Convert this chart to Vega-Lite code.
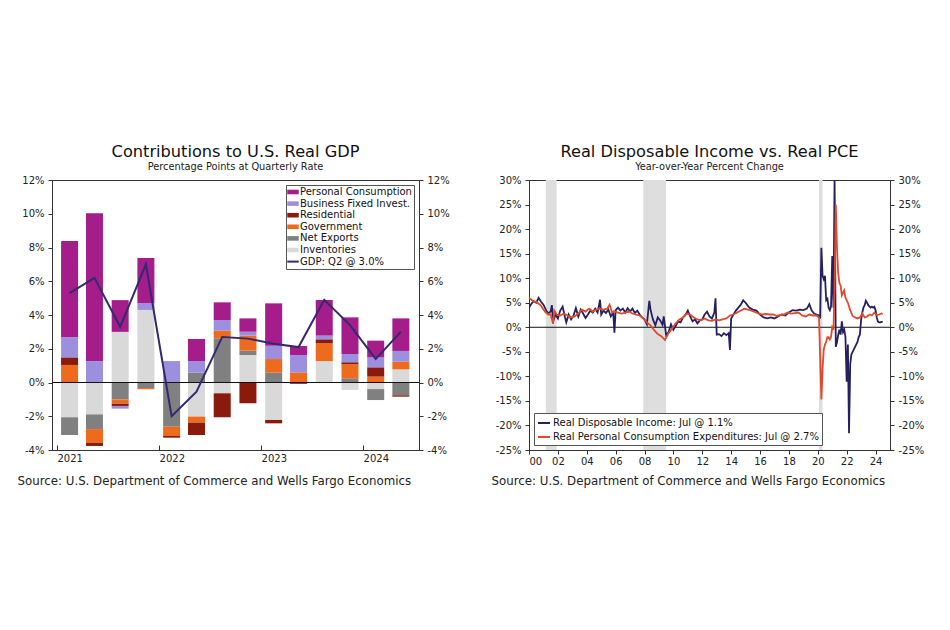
{
 "$schema": "https://vega.github.io/schema/vega-lite/v6.json",
 "background": "white",
 "padding": {"left": 16, "top": 143, "right": 0, "bottom": 0},
 "config": {
  "font": "DejaVu Sans",
  "view": {"stroke": "#333", "strokeWidth": 1},
  "axis": {"grid": false, "labelFontSize": 10, "labelColor": "#222", "domainColor": "#333", "tickColor": "#333", "tickSize": 4, "labelPadding": 4, "titleFontWeight": "normal"},
  "title": {"fontWeight": "normal", "fontSize": 16.2, "color": "#111", "subtitleFontSize": 9.8, "subtitleColor": "#222", "anchor": "middle", "offset": 3, "subtitlePadding": 2}
 },
 "datasets": {
  "compOrder": [
   {"comp": "Inventories", "ord": 1}, {"comp": "Net Exports", "ord": 2}, {"comp": "Government", "ord": 3},
   {"comp": "Residential", "ord": 4}, {"comp": "Business Fixed Invest.", "ord": 5}, {"comp": "Personal Consumption", "ord": 6}
  ],
  "gdpParts": [
   {"q": "2021-02-15", "comp": "Inventories", "v": -2.06}, {"q": "2021-02-15", "comp": "Net Exports", "v": -1.05}, {"q": "2021-02-15", "comp": "Government", "v": 1.04}, {"q": "2021-02-15", "comp": "Residential", "v": 0.45}, {"q": "2021-02-15", "comp": "Business Fixed Invest.", "v": 1.19}, {"q": "2021-02-15", "comp": "Personal Consumption", "v": 5.71},
   {"q": "2021-05-15", "comp": "Inventories", "v": -1.89}, {"q": "2021-05-15", "comp": "Net Exports", "v": -0.87}, {"q": "2021-05-15", "comp": "Government", "v": -0.81}, {"q": "2021-05-15", "comp": "Residential", "v": -0.19}, {"q": "2021-05-15", "comp": "Business Fixed Invest.", "v": 1.27}, {"q": "2021-05-15", "comp": "Personal Consumption", "v": 8.76},
   {"q": "2021-08-15", "comp": "Inventories", "v": 3.0}, {"q": "2021-08-15", "comp": "Net Exports", "v": -1.0}, {"q": "2021-08-15", "comp": "Government", "v": -0.26}, {"q": "2021-08-15", "comp": "Residential", "v": -0.13}, {"q": "2021-08-15", "comp": "Business Fixed Invest.", "v": -0.16}, {"q": "2021-08-15", "comp": "Personal Consumption", "v": 1.88},
   {"q": "2021-11-15", "comp": "Inventories", "v": 4.3}, {"q": "2021-11-15", "comp": "Net Exports", "v": -0.33}, {"q": "2021-11-15", "comp": "Government", "v": -0.07}, {"q": "2021-11-15", "comp": "Business Fixed Invest.", "v": 0.4}, {"q": "2021-11-15", "comp": "Personal Consumption", "v": 2.68},
   {"q": "2022-02-15", "comp": "Net Exports", "v": -2.62}, {"q": "2022-02-15", "comp": "Government", "v": -0.55}, {"q": "2022-02-15", "comp": "Residential", "v": -0.1}, {"q": "2022-02-15", "comp": "Business Fixed Invest.", "v": 1.27},
   {"q": "2022-05-15", "comp": "Inventories", "v": -2.02}, {"q": "2022-05-15", "comp": "Net Exports", "v": 0.58}, {"q": "2022-05-15", "comp": "Government", "v": -0.36}, {"q": "2022-05-15", "comp": "Residential", "v": -0.73}, {"q": "2022-05-15", "comp": "Business Fixed Invest.", "v": 0.69}, {"q": "2022-05-15", "comp": "Personal Consumption", "v": 1.31},
   {"q": "2022-08-15", "comp": "Inventories", "v": -0.64}, {"q": "2022-08-15", "comp": "Net Exports", "v": 2.62}, {"q": "2022-08-15", "comp": "Government", "v": 0.45}, {"q": "2022-08-15", "comp": "Residential", "v": -1.42}, {"q": "2022-08-15", "comp": "Business Fixed Invest.", "v": 0.63}, {"q": "2022-08-15", "comp": "Personal Consumption", "v": 1.05},
   {"q": "2022-11-15", "comp": "Inventories", "v": 1.63}, {"q": "2022-11-15", "comp": "Net Exports", "v": 0.26}, {"q": "2022-11-15", "comp": "Government", "v": 0.89}, {"q": "2022-11-15", "comp": "Residential", "v": -1.23}, {"q": "2022-11-15", "comp": "Business Fixed Invest.", "v": 0.23}, {"q": "2022-11-15", "comp": "Personal Consumption", "v": 0.79},
   {"q": "2023-02-15", "comp": "Inventories", "v": -2.22}, {"q": "2023-02-15", "comp": "Net Exports", "v": 0.58}, {"q": "2023-02-15", "comp": "Government", "v": 0.81}, {"q": "2023-02-15", "comp": "Residential", "v": -0.2}, {"q": "2023-02-15", "comp": "Business Fixed Invest.", "v": 0.79}, {"q": "2023-02-15", "comp": "Personal Consumption", "v": 2.51},
   {"q": "2023-05-15", "comp": "Government", "v": 0.6}, {"q": "2023-05-15", "comp": "Residential", "v": -0.08}, {"q": "2023-05-15", "comp": "Business Fixed Invest.", "v": 1.03}, {"q": "2023-05-15", "comp": "Personal Consumption", "v": 0.53},
   {"q": "2023-08-15", "comp": "Inventories", "v": 1.27}, {"q": "2023-08-15", "comp": "Government", "v": 1.05}, {"q": "2023-08-15", "comp": "Residential", "v": 0.24}, {"q": "2023-08-15", "comp": "Business Fixed Invest.", "v": 0.22}, {"q": "2023-08-15", "comp": "Personal Consumption", "v": 2.11},
   {"q": "2023-11-15", "comp": "Inventories", "v": -0.44}, {"q": "2023-11-15", "comp": "Net Exports", "v": 0.25}, {"q": "2023-11-15", "comp": "Government", "v": 0.83}, {"q": "2023-11-15", "comp": "Residential", "v": 0.12}, {"q": "2023-11-15", "comp": "Business Fixed Invest.", "v": 0.49}, {"q": "2023-11-15", "comp": "Personal Consumption", "v": 2.17},
   {"q": "2024-02-15", "comp": "Inventories", "v": -0.39}, {"q": "2024-02-15", "comp": "Net Exports", "v": -0.65}, {"q": "2024-02-15", "comp": "Government", "v": 0.35}, {"q": "2024-02-15", "comp": "Residential", "v": 0.55}, {"q": "2024-02-15", "comp": "Business Fixed Invest.", "v": 0.59}, {"q": "2024-02-15", "comp": "Personal Consumption", "v": 0.99},
   {"q": "2024-05-15", "comp": "Inventories", "v": 0.78}, {"q": "2024-05-15", "comp": "Net Exports", "v": -0.76}, {"q": "2024-05-15", "comp": "Government", "v": 0.45}, {"q": "2024-05-15", "comp": "Residential", "v": -0.08}, {"q": "2024-05-15", "comp": "Business Fixed Invest.", "v": 0.64}, {"q": "2024-05-15", "comp": "Personal Consumption", "v": 1.93}
  ],
  "gdp": [
   {"q": "2021-02-15", "v": 5.3}, {"q": "2021-05-15", "v": 6.2}, {"q": "2021-08-15", "v": 3.3}, {"q": "2021-11-15", "v": 7.0},
   {"q": "2022-02-15", "v": -2.0}, {"q": "2022-05-15", "v": -0.55}, {"q": "2022-08-15", "v": 2.7}, {"q": "2022-11-15", "v": 2.6},
   {"q": "2023-02-15", "v": 2.3}, {"q": "2023-05-15", "v": 2.1}, {"q": "2023-08-15", "v": 4.9}, {"q": "2023-11-15", "v": 3.4},
   {"q": "2024-02-15", "v": 1.4}, {"q": "2024-05-15", "v": 3.0}
  ],
  "recessions": [
   {"start": "2001-03-01", "end": "2001-11-30"},
   {"start": "2007-12-01", "end": "2009-06-30"},
   {"start": "2020-02-01", "end": "2020-04-30"}
  ],
  "rdi": [
   {"d": "2000-01", "v": 4.0}, {"d": "2000-03", "v": 4.8}, {"d": "2000-05", "v": 5.3}, {"d": "2000-07", "v": 5.0}, {"d": "2000-09", "v": 6.0}, {"d": "2000-11", "v": 5.2},
   {"d": "2001-01", "v": 4.6}, {"d": "2001-03", "v": 3.6}, {"d": "2001-05", "v": 2.8}, {"d": "2001-07", "v": 3.2}, {"d": "2001-08", "v": 4.5}, {"d": "2001-09", "v": 1.2}, {"d": "2001-11", "v": 2.6},
   {"d": "2002-01", "v": 1.8}, {"d": "2002-03", "v": 3.4}, {"d": "2002-05", "v": 4.2}, {"d": "2002-07", "v": 2.0}, {"d": "2002-08", "v": 1.0}, {"d": "2002-10", "v": 2.6}, {"d": "2002-12", "v": 1.6},
   {"d": "2003-02", "v": 2.4}, {"d": "2003-04", "v": 3.9}, {"d": "2003-06", "v": 2.2}, {"d": "2003-08", "v": 3.6}, {"d": "2003-10", "v": 2.8}, {"d": "2003-12", "v": 1.9},
   {"d": "2004-02", "v": 2.6}, {"d": "2004-04", "v": 3.4}, {"d": "2004-06", "v": 3.0}, {"d": "2004-08", "v": 3.8}, {"d": "2004-10", "v": 3.0}, {"d": "2004-12", "v": 5.6},
   {"d": "2005-01", "v": 2.6}, {"d": "2005-03", "v": 3.4}, {"d": "2005-05", "v": 2.9}, {"d": "2005-07", "v": 3.6}, {"d": "2005-09", "v": 2.2}, {"d": "2005-11", "v": 3.0}, {"d": "2005-12", "v": -1.1},
   {"d": "2006-01", "v": 3.5}, {"d": "2006-03", "v": 4.0}, {"d": "2006-05", "v": 3.4}, {"d": "2006-07", "v": 3.8}, {"d": "2006-09", "v": 3.0}, {"d": "2006-11", "v": 3.9},
   {"d": "2007-01", "v": 3.2}, {"d": "2007-03", "v": 3.8}, {"d": "2007-05", "v": 2.9}, {"d": "2007-07", "v": 3.4}, {"d": "2007-09", "v": 2.6}, {"d": "2007-11", "v": 2.0},
   {"d": "2008-01", "v": 1.6}, {"d": "2008-03", "v": 0.6}, {"d": "2008-05", "v": 5.4}, {"d": "2008-06", "v": 3.6}, {"d": "2008-08", "v": 1.6}, {"d": "2008-10", "v": 0.4}, {"d": "2008-12", "v": 2.0},
   {"d": "2009-02", "v": 1.4}, {"d": "2009-04", "v": 0.5}, {"d": "2009-05", "v": 2.2}, {"d": "2009-07", "v": -1.6}, {"d": "2009-09", "v": -1.0}, {"d": "2009-11", "v": 0.6},
   {"d": "2010-01", "v": -0.5}, {"d": "2010-03", "v": 0.3}, {"d": "2010-05", "v": 1.2}, {"d": "2010-07", "v": 1.0}, {"d": "2010-09", "v": 2.0}, {"d": "2010-11", "v": 2.5},
   {"d": "2011-01", "v": 3.4}, {"d": "2011-03", "v": 2.2}, {"d": "2011-05", "v": 1.2}, {"d": "2011-07", "v": 1.6}, {"d": "2011-09", "v": 0.8}, {"d": "2011-11", "v": 1.4},
   {"d": "2012-01", "v": 1.6}, {"d": "2012-03", "v": 2.6}, {"d": "2012-05", "v": 3.2}, {"d": "2012-07", "v": 2.2}, {"d": "2012-09", "v": 1.8}, {"d": "2012-11", "v": 3.0}, {"d": "2012-12", "v": 5.9},
   {"d": "2013-01", "v": -1.5}, {"d": "2013-03", "v": -1.4}, {"d": "2013-05", "v": -1.8}, {"d": "2013-07", "v": -1.2}, {"d": "2013-09", "v": -1.6}, {"d": "2013-11", "v": -1.2}, {"d": "2013-12", "v": -4.6},
   {"d": "2014-01", "v": 1.8}, {"d": "2014-03", "v": 2.6}, {"d": "2014-05", "v": 3.4}, {"d": "2014-07", "v": 4.0}, {"d": "2014-09", "v": 4.6}, {"d": "2014-11", "v": 5.5},
   {"d": "2015-01", "v": 5.0}, {"d": "2015-04", "v": 4.0}, {"d": "2015-07", "v": 3.6}, {"d": "2015-10", "v": 3.4},
   {"d": "2016-01", "v": 2.6}, {"d": "2016-04", "v": 2.0}, {"d": "2016-07", "v": 1.8}, {"d": "2016-10", "v": 2.0},
   {"d": "2017-01", "v": 1.8}, {"d": "2017-04", "v": 2.2}, {"d": "2017-07", "v": 2.6}, {"d": "2017-10", "v": 2.4},
   {"d": "2018-01", "v": 3.0}, {"d": "2018-04", "v": 3.5}, {"d": "2018-07", "v": 3.4}, {"d": "2018-10", "v": 3.6},
   {"d": "2019-01", "v": 3.5}, {"d": "2019-04", "v": 3.8}, {"d": "2019-06", "v": 4.7}, {"d": "2019-08", "v": 3.4}, {"d": "2019-10", "v": 2.8}, {"d": "2019-12", "v": 2.6},
   {"d": "2020-02", "v": 2.4}, {"d": "2020-03", "v": 1.8}, {"d": "2020-04", "v": 16.2}, {"d": "2020-05", "v": 10.5}, {"d": "2020-06", "v": 9.8}, {"d": "2020-07", "v": 10.5}, {"d": "2020-08", "v": 5.5}, {"d": "2020-09", "v": 5.8}, {"d": "2020-10", "v": 4.0}, {"d": "2020-11", "v": 3.5}, {"d": "2020-12", "v": 4.2},
   {"d": "2021-01", "v": 14.5}, {"d": "2021-02", "v": 4.0}, {"d": "2021-03", "v": 30.5}, {"d": "2021-04", "v": -4.0}, {"d": "2021-05", "v": -3.0}, {"d": "2021-06", "v": -1.5}, {"d": "2021-07", "v": -0.5}, {"d": "2021-08", "v": -1.5}, {"d": "2021-09", "v": 1.2}, {"d": "2021-10", "v": -1.0}, {"d": "2021-11", "v": -0.5}, {"d": "2021-12", "v": -2.0},
   {"d": "2022-01", "v": -11.1}, {"d": "2022-02", "v": -3.5}, {"d": "2022-03", "v": -21.6}, {"d": "2022-04", "v": -7.5}, {"d": "2022-05", "v": -5.5}, {"d": "2022-06", "v": -5.0}, {"d": "2022-07", "v": -4.5}, {"d": "2022-08", "v": -4.0}, {"d": "2022-09", "v": -3.5}, {"d": "2022-10", "v": -3.0}, {"d": "2022-11", "v": -2.0}, {"d": "2022-12", "v": -1.5},
   {"d": "2023-01", "v": 1.5}, {"d": "2023-02", "v": 3.0}, {"d": "2023-03", "v": 4.0}, {"d": "2023-04", "v": 4.5}, {"d": "2023-05", "v": 5.4}, {"d": "2023-06", "v": 5.0}, {"d": "2023-07", "v": 4.5}, {"d": "2023-08", "v": 4.2}, {"d": "2023-09", "v": 4.0}, {"d": "2023-10", "v": 4.2}, {"d": "2023-11", "v": 4.0}, {"d": "2023-12", "v": 4.2},
   {"d": "2024-01", "v": 3.5}, {"d": "2024-02", "v": 2.0}, {"d": "2024-03", "v": 1.2}, {"d": "2024-04", "v": 1.0}, {"d": "2024-05", "v": 1.0}, {"d": "2024-06", "v": 1.1}, {"d": "2024-07", "v": 1.1}
  ],
  "pce": [
   {"d": "2000-01", "v": 6.0}, {"d": "2000-03", "v": 5.6}, {"d": "2000-05", "v": 5.2}, {"d": "2000-07", "v": 5.2}, {"d": "2000-09", "v": 4.8}, {"d": "2000-11", "v": 4.4},
   {"d": "2001-01", "v": 3.6}, {"d": "2001-03", "v": 3.0}, {"d": "2001-05", "v": 2.6}, {"d": "2001-07", "v": 2.6}, {"d": "2001-09", "v": 0.7}, {"d": "2001-10", "v": 3.4}, {"d": "2001-12", "v": 2.6},
   {"d": "2002-03", "v": 2.4}, {"d": "2002-06", "v": 2.8}, {"d": "2002-09", "v": 2.4}, {"d": "2002-12", "v": 2.0},
   {"d": "2003-03", "v": 2.2}, {"d": "2003-06", "v": 2.8}, {"d": "2003-09", "v": 3.6}, {"d": "2003-12", "v": 3.2},
   {"d": "2004-03", "v": 3.8}, {"d": "2004-06", "v": 3.2}, {"d": "2004-09", "v": 3.6}, {"d": "2004-12", "v": 3.8},
   {"d": "2005-03", "v": 3.6}, {"d": "2005-06", "v": 3.8}, {"d": "2005-08", "v": 4.6}, {"d": "2005-10", "v": 3.0}, {"d": "2005-12", "v": 3.2},
   {"d": "2006-03", "v": 3.0}, {"d": "2006-06", "v": 2.8}, {"d": "2006-09", "v": 3.0}, {"d": "2006-12", "v": 3.2},
   {"d": "2007-03", "v": 2.8}, {"d": "2007-06", "v": 2.6}, {"d": "2007-09", "v": 2.4}, {"d": "2007-12", "v": 1.8},
   {"d": "2008-03", "v": 1.0}, {"d": "2008-06", "v": 0.4}, {"d": "2008-09", "v": -0.6}, {"d": "2008-12", "v": -1.4},
   {"d": "2009-03", "v": -1.8}, {"d": "2009-06", "v": -2.6}, {"d": "2009-09", "v": -1.2}, {"d": "2009-12", "v": -0.2},
   {"d": "2010-03", "v": 0.8}, {"d": "2010-06", "v": 1.6}, {"d": "2010-09", "v": 2.0}, {"d": "2010-12", "v": 2.8},
   {"d": "2011-03", "v": 2.6}, {"d": "2011-06", "v": 2.0}, {"d": "2011-09", "v": 1.6}, {"d": "2011-12", "v": 1.4},
   {"d": "2012-03", "v": 1.8}, {"d": "2012-06", "v": 1.4}, {"d": "2012-09", "v": 1.3}, {"d": "2012-12", "v": 1.6},
   {"d": "2013-03", "v": 1.4}, {"d": "2013-06", "v": 1.6}, {"d": "2013-09", "v": 1.8}, {"d": "2013-12", "v": 2.4},
   {"d": "2014-03", "v": 2.6}, {"d": "2014-06", "v": 3.0}, {"d": "2014-09", "v": 3.4}, {"d": "2014-12", "v": 3.8},
   {"d": "2015-03", "v": 3.6}, {"d": "2015-06", "v": 3.4}, {"d": "2015-09", "v": 3.1}, {"d": "2015-12", "v": 2.8},
   {"d": "2016-03", "v": 2.6}, {"d": "2016-06", "v": 2.7}, {"d": "2016-09", "v": 2.6}, {"d": "2016-12", "v": 2.6},
   {"d": "2017-03", "v": 2.3}, {"d": "2017-06", "v": 2.5}, {"d": "2017-09", "v": 2.6}, {"d": "2017-12", "v": 3.0},
   {"d": "2018-03", "v": 2.8}, {"d": "2018-06", "v": 2.9}, {"d": "2018-09", "v": 3.0}, {"d": "2018-12", "v": 2.4},
   {"d": "2019-03", "v": 2.2}, {"d": "2019-06", "v": 2.6}, {"d": "2019-09", "v": 2.4}, {"d": "2019-12", "v": 2.4},
   {"d": "2020-02", "v": 2.0}, {"d": "2020-03", "v": -6.0}, {"d": "2020-04", "v": -14.7}, {"d": "2020-05", "v": -8.5}, {"d": "2020-06", "v": -4.5}, {"d": "2020-07", "v": -3.5}, {"d": "2020-08", "v": -3.0}, {"d": "2020-09", "v": -2.0}, {"d": "2020-10", "v": -2.0}, {"d": "2020-11", "v": -2.5}, {"d": "2020-12", "v": -2.0},
   {"d": "2021-01", "v": 0.0}, {"d": "2021-02", "v": -0.5}, {"d": "2021-03", "v": 8.0}, {"d": "2021-04", "v": 25.0}, {"d": "2021-05", "v": 16.0}, {"d": "2021-06", "v": 11.0}, {"d": "2021-07", "v": 9.0}, {"d": "2021-08", "v": 8.5}, {"d": "2021-09", "v": 6.5}, {"d": "2021-10", "v": 7.0}, {"d": "2021-11", "v": 7.5}, {"d": "2021-12", "v": 6.0},
   {"d": "2022-02", "v": 5.0}, {"d": "2022-04", "v": 3.5}, {"d": "2022-06", "v": 2.3}, {"d": "2022-08", "v": 2.0}, {"d": "2022-10", "v": 1.8}, {"d": "2022-12", "v": 2.0},
   {"d": "2023-02", "v": 2.8}, {"d": "2023-04", "v": 2.0}, {"d": "2023-06", "v": 2.2}, {"d": "2023-08", "v": 2.6}, {"d": "2023-10", "v": 2.4}, {"d": "2023-12", "v": 3.0},
   {"d": "2024-02", "v": 2.5}, {"d": "2024-04", "v": 2.6}, {"d": "2024-06", "v": 2.8}, {"d": "2024-07", "v": 2.7}
  ]
 },
 "spacing": 40,
 "resolve": {"scale": {"color": "independent", "stroke": "independent"}, "legend": {"color": "independent", "stroke": "independent"}},
 "hconcat": [
  {
   "width": 367, "height": 270,
   "title": {"text": "Contributions to U.S. Real GDP", "subtitle": "Percentage Points at Quarterly Rate"},
   "resolve": {"axis": {"y": "independent"}},
   "layer": [
    {
     "data": {"name": "gdpParts"},
     "transform": [{"lookup": "comp", "from": {"data": {"name": "compOrder"}, "key": "comp", "fields": ["ord"]}}],
     "mark": {"type": "bar", "size": 17},
     "encoding": {
      "x": {"field": "q", "type": "temporal", "scale": {"type": "utc", "domain": [{"year": 2021, "month": 1, "date": 1, "utc": true}, {"year": 2024, "month": 7, "date": 1, "utc": true}]},
            "axis": {"values": [{"year": 2021, "utc": true}, {"year": 2022, "utc": true}, {"year": 2023, "utc": true}, {"year": 2024, "utc": true}], "format": "%Y", "labelAlign": "left", "tickSize": -5, "labelPadding": 8,
                     "title": "Source: U.S. Department of Commerce and Wells Fargo Economics", "titleAnchor": "start", "titleAlign": "left", "titleX": -35, "titleY": 34, "titleBaseline": "alphabetic", "titleFontSize": 11.8, "titleColor": "#222"}},
      "y": {"field": "v", "type": "quantitative", "stack": "zero", "scale": {"domain": [-4, 12]}, "axis": {"orient": "left", "title": null, "values": [-4, -2, 0, 2, 4, 6, 8, 10, 12], "labelExpr": "datum.value + '%'"}},
      "color": {"field": "comp", "type": "nominal",
                "scale": {"domain": ["Personal Consumption", "Business Fixed Invest.", "Residential", "Government", "Net Exports", "Inventories", "GDP: Q2 @ 3.0%"],
                          "range": ["#a51c8b", "#9c8fdd", "#8a1a0b", "#ee6b1e", "#808080", "#d9d9d9", "#33296e"]},
                "legend": {"title": null, "orient": "top-right", "offset": 5, "strokeColor": "#555", "fillColor": "white", "padding": 2, "labelFontSize": 10, "labelColor": "#111", "symbolSize": 132, "rowPadding": 1.6, "labelOffset": 2,
                           "encode": {"symbols": {"update": {
                             "shape": {"signal": "datum.value === 'GDP: Q2 @ 3.0%' ? 'stroke' : 'M-1,-0.4H1V0.4H-1Z'"},
                             "strokeWidth": {"signal": "datum.value === 'GDP: Q2 @ 3.0%' ? 2 : 0"},
                             "stroke": {"signal": "datum.value === 'GDP: Q2 @ 3.0%' ? '#33296e' : 'transparent'"},
                             "fill": {"signal": "datum.value === 'Personal Consumption' ? '#a51c8b' : datum.value === 'Business Fixed Invest.' ? '#9c8fdd' : datum.value === 'Residential' ? '#8a1a0b' : datum.value === 'Government' ? '#ee6b1e' : datum.value === 'Net Exports' ? '#808080' : datum.value === 'Inventories' ? '#d9d9d9' : 'transparent'"},
                             "opacity": {"value": 1}
                           }}}}},
      "order": {"field": "ord", "type": "quantitative"}
     }
    },
    {
     "data": {"values": [{}]},
     "mark": {"type": "rule", "color": "#111", "strokeWidth": 1},
     "encoding": {"y": {"datum": 0, "type": "quantitative", "scale": {"domain": [-4, 12]}, "axis": {"orient": "right", "title": null, "values": [-4, -2, 0, 2, 4, 6, 8, 10, 12], "labelExpr": "datum.value + '%'"}}}
    },
    {
     "data": {"name": "gdp"},
     "mark": {"type": "line", "strokeWidth": 2},
     "encoding": {
      "x": {"field": "q", "type": "temporal", "scale": {"type": "utc", "domain": [{"year": 2021, "month": 1, "date": 1, "utc": true}, {"year": 2024, "month": 7, "date": 1, "utc": true}]},
            "axis": {"values": [{"year": 2021, "utc": true}, {"year": 2022, "utc": true}, {"year": 2023, "utc": true}, {"year": 2024, "utc": true}], "format": "%Y", "labelAlign": "left", "tickSize": -5, "labelPadding": 8,
                     "title": "Source: U.S. Department of Commerce and Wells Fargo Economics", "titleAnchor": "start", "titleAlign": "left", "titleX": -35, "titleY": 34, "titleBaseline": "alphabetic", "titleFontSize": 11.8, "titleColor": "#222"}},
      "y": {"field": "v", "type": "quantitative", "scale": {"domain": [-4, 12]}, "axis": null},
      "color": {"datum": "GDP: Q2 @ 3.0%"}
     }
    }
   ]
  },
  {
   "width": 361, "height": 270,
   "title": {"text": "Real Disposable Income vs. Real PCE", "subtitle": "Year-over-Year Percent Change"},
   "resolve": {"axis": {"y": "independent"}},
   "layer": [
    {
     "data": {"name": "recessions"},
     "mark": {"type": "rect", "color": "#dedede"},
     "encoding": {
      "x": {"field": "start", "type": "temporal", "scale": {"type": "utc", "domain": [{"year": 2000, "utc": true}, {"year": 2025, "utc": true}]},
            "axis": {"values": [{"year": 2000, "utc": true}, {"year": 2002, "utc": true}, {"year": 2004, "utc": true}, {"year": 2006, "utc": true}, {"year": 2008, "utc": true}, {"year": 2010, "utc": true}, {"year": 2012, "utc": true}, {"year": 2014, "utc": true}, {"year": 2016, "utc": true}, {"year": 2018, "utc": true}, {"year": 2020, "utc": true}, {"year": 2022, "utc": true}, {"year": 2024, "utc": true}], "format": "%y", "labelPadding": 2,
                     "title": "Source: U.S. Department of Commerce and Wells Fargo Economics", "titleAnchor": "start", "titleAlign": "left", "titleX": -38, "titleY": 34, "titleBaseline": "alphabetic", "titleFontSize": 11.8, "titleColor": "#222"}},
      "x2": {"field": "end"}
     }
    },
    {
     "data": {"values": [{}]},
     "mark": {"type": "rule", "color": "#111", "strokeWidth": 1},
     "encoding": {"y": {"datum": 0, "type": "quantitative", "scale": {"domain": [-25, 30]}, "axis": {"orient": "right", "title": null, "values": [-25, -20, -15, -10, -5, 0, 5, 10, 15, 20, 25, 30], "labelExpr": "datum.value + '%'"}}}
    },
    {
     "data": {"name": "rdi"},
     "mark": {"type": "line", "strokeWidth": 1.8, "clip": true},
     "encoding": {
      "x": {"field": "d", "type": "temporal", "scale": {"type": "utc", "domain": [{"year": 2000, "utc": true}, {"year": 2025, "utc": true}]},
            "axis": {"values": [{"year": 2000, "utc": true}, {"year": 2002, "utc": true}, {"year": 2004, "utc": true}, {"year": 2006, "utc": true}, {"year": 2008, "utc": true}, {"year": 2010, "utc": true}, {"year": 2012, "utc": true}, {"year": 2014, "utc": true}, {"year": 2016, "utc": true}, {"year": 2018, "utc": true}, {"year": 2020, "utc": true}, {"year": 2022, "utc": true}, {"year": 2024, "utc": true}], "format": "%y", "labelPadding": 2,
                     "title": "Source: U.S. Department of Commerce and Wells Fargo Economics", "titleAnchor": "start", "titleAlign": "left", "titleX": -38, "titleY": 34, "titleBaseline": "alphabetic", "titleFontSize": 11.8, "titleColor": "#222"}},
      "y": {"field": "v", "type": "quantitative", "scale": {"domain": [-25, 30]}, "axis": {"orient": "left", "title": null, "values": [-25, -20, -15, -10, -5, 0, 5, 10, 15, 20, 25, 30], "labelExpr": "datum.value + '%'"}},
      "stroke": {"datum": "Real Disposable Income: Jul @ 1.1%",
                 "scale": {"domain": ["Real Disposable Income: Jul @ 1.1%", "Real Personal Consumption Expenditures: Jul @ 2.7%"], "range": ["#25205f", "#e04a2c"]},
                 "legend": {"title": null, "orient": "bottom-left", "offset": 5, "strokeColor": "#555", "fillColor": "white", "padding": 3, "labelFontSize": 10, "labelColor": "#111", "symbolType": "stroke", "symbolStrokeWidth": 2, "symbolSize": 144, "rowPadding": 2, "labelOffset": 2, "labelLimit": 400}}
     }
    },
    {
     "data": {"name": "pce"},
     "mark": {"type": "line", "strokeWidth": 1.8, "clip": true},
     "encoding": {
      "x": {"field": "d", "type": "temporal", "scale": {"type": "utc", "domain": [{"year": 2000, "utc": true}, {"year": 2025, "utc": true}]},
            "axis": {"values": [{"year": 2000, "utc": true}, {"year": 2002, "utc": true}, {"year": 2004, "utc": true}, {"year": 2006, "utc": true}, {"year": 2008, "utc": true}, {"year": 2010, "utc": true}, {"year": 2012, "utc": true}, {"year": 2014, "utc": true}, {"year": 2016, "utc": true}, {"year": 2018, "utc": true}, {"year": 2020, "utc": true}, {"year": 2022, "utc": true}, {"year": 2024, "utc": true}], "format": "%y", "labelPadding": 2,
                     "title": "Source: U.S. Department of Commerce and Wells Fargo Economics", "titleAnchor": "start", "titleAlign": "left", "titleX": -38, "titleY": 34, "titleBaseline": "alphabetic", "titleFontSize": 11.8, "titleColor": "#222"}},
      "y": {"field": "v", "type": "quantitative", "scale": {"domain": [-25, 30]}, "axis": null},
      "stroke": {"datum": "Real Personal Consumption Expenditures: Jul @ 2.7%"}
     }
    }
   ]
  }
 ]
}
